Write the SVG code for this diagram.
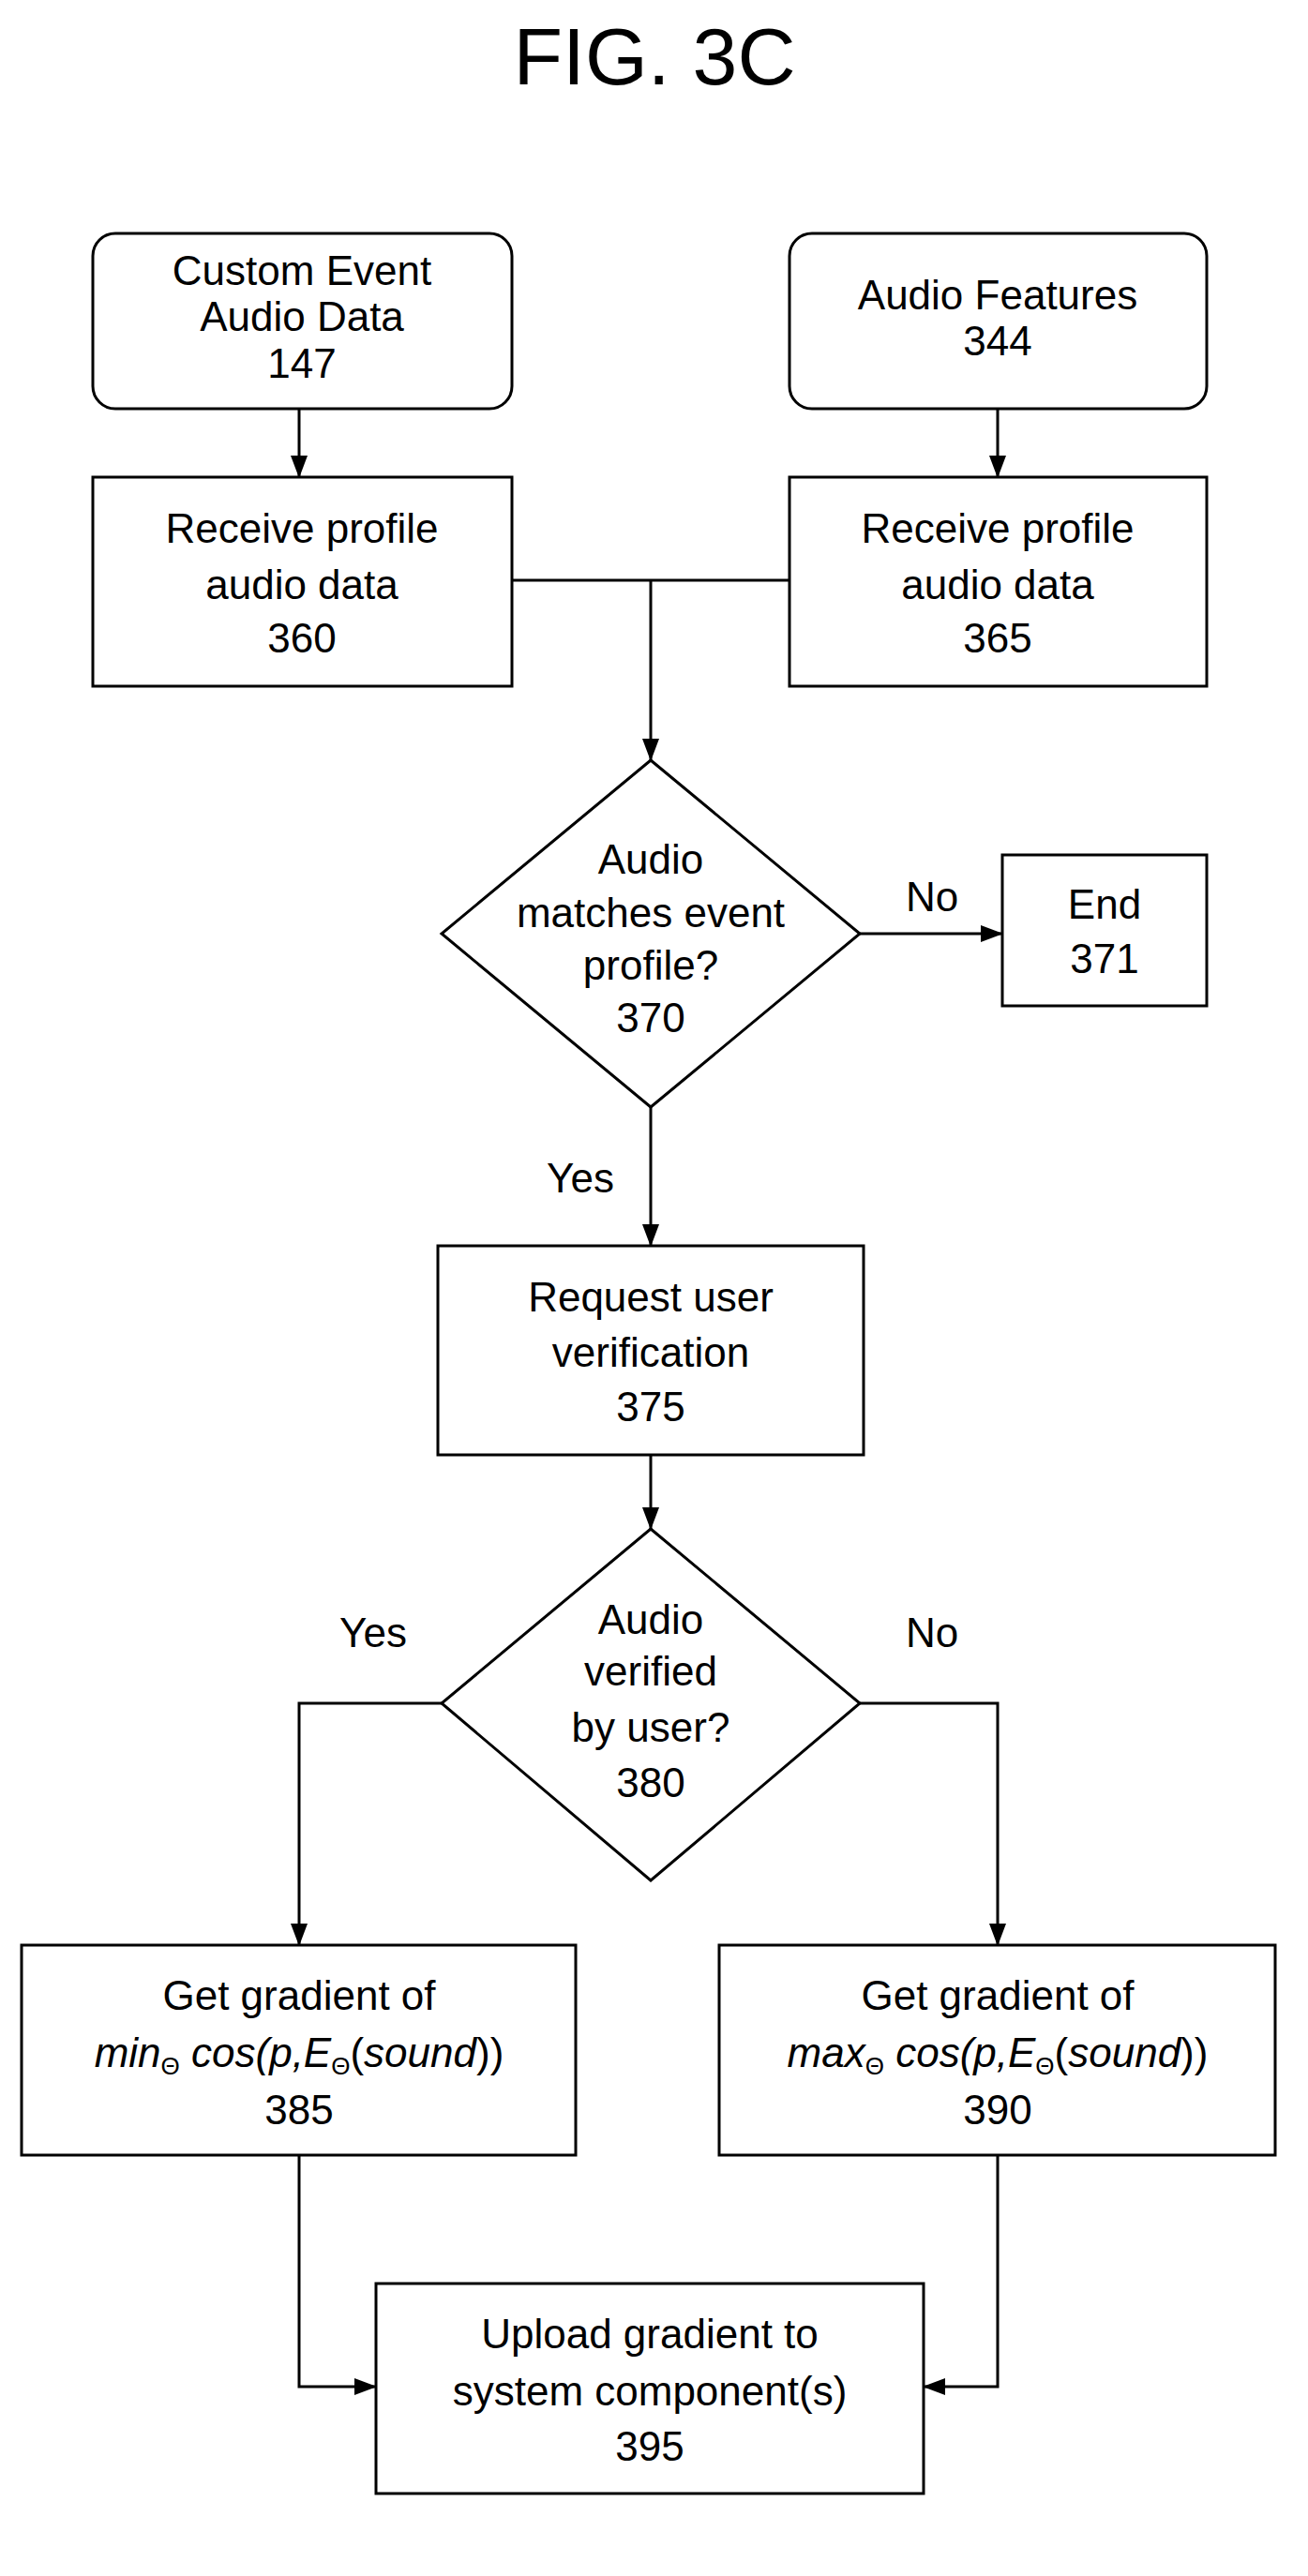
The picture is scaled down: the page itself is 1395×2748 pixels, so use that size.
<svg xmlns="http://www.w3.org/2000/svg" width="1395" height="2748" viewBox="0 0 1395 2748">
<style>
.b{fill:#fff;stroke:#000;stroke-width:3}
text{font-family:"Liberation Sans",Arial,sans-serif;font-size:44px;text-anchor:middle;fill:#000}
.c{fill:none;stroke:#000;stroke-width:3}
.s{font-size:26px}
</style>
<defs><marker id="a" markerWidth="24" markerHeight="18" refX="23" refY="9" orient="auto" markerUnits="userSpaceOnUse" viewBox="0 0 24 18"><path d="M0,0L24,9L0,18z" fill="#000"/></marker></defs>
<text x="698" y="90" style="font-size:86px">FIG. 3C</text>
<g id="n147"><rect class="b" x="99" y="249" width="447" height="187" rx="24"/><text x="322" y="304">Custom Event</text><text x="322" y="353">Audio Data</text><text x="322" y="403">147</text></g>
<g id="n344"><rect class="b" x="842" y="249" width="445" height="187" rx="24"/><text x="1064" y="330">Audio Features</text><text x="1064" y="379">344</text></g>
<g id="n360"><rect class="b" x="99" y="509" width="447" height="223"/><text x="322" y="579">Receive profile</text><text x="322" y="639">audio data</text><text x="322" y="696">360</text></g>
<g id="n365"><rect class="b" x="842" y="509" width="445" height="223"/><text x="1064" y="579">Receive profile</text><text x="1064" y="639">audio data</text><text x="1064" y="696">365</text></g>
<g id="n370"><polygon class="b" points="694,811 917,996 694,1181 471,996"/><text x="694" y="932">Audio</text><text x="694" y="989">matches event</text><text x="694" y="1045">profile?</text><text x="694" y="1101">370</text></g>
<g id="n371"><rect class="b" x="1069" y="912" width="218" height="161"/><text x="1178" y="980">End</text><text x="1178" y="1038">371</text></g>
<g id="n375"><rect class="b" x="467" y="1329" width="454" height="223"/><text x="694" y="1399">Request user</text><text x="694" y="1458">verification</text><text x="694" y="1516">375</text></g>
<g id="n380"><polygon class="b" points="694,1631 917,1817 694,2006 471,1817"/><text x="694" y="1743">Audio</text><text x="694" y="1798">verified</text><text x="694" y="1858">by user?</text><text x="694" y="1917">380</text></g>
<g id="n385"><rect class="b" x="23" y="2075" width="591" height="224"/><text x="319" y="2144">Get gradient of</text><text x="319" y="2205"><tspan font-style="italic">min</tspan><tspan class="s" dy="8">Θ</tspan><tspan font-style="italic" dy="-8"> cos(p,E</tspan><tspan class="s" dy="8">Θ</tspan><tspan dy="-8">(</tspan><tspan font-style="italic">sound</tspan><tspan>))</tspan></text><text x="319" y="2266">385</text></g>
<g id="n390"><rect class="b" x="767" y="2075" width="593" height="224"/><text x="1064" y="2144">Get gradient of</text><text x="1064" y="2205"><tspan font-style="italic">max</tspan><tspan class="s" dy="8">Θ</tspan><tspan font-style="italic" dy="-8"> cos(p,E</tspan><tspan class="s" dy="8">Θ</tspan><tspan dy="-8">(</tspan><tspan font-style="italic">sound</tspan><tspan>))</tspan></text><text x="1064" y="2266">390</text></g>
<g id="n395"><rect class="b" x="401" y="2436" width="584" height="224"/><text x="693" y="2505">Upload gradient to</text><text x="693" y="2566">system component(s)</text><text x="693" y="2625">395</text></g>
<g id="connectors">
<path class="c" marker-end="url(#a)" d="M319,436V509"/>
<path class="c" marker-end="url(#a)" d="M1064,436V509"/>
<path class="c" d="M546,619H842"/>
<path class="c" marker-end="url(#a)" d="M694,619V811"/>
<path class="c" marker-end="url(#a)" d="M917,996H1069"/>
<path class="c" marker-end="url(#a)" d="M694,1181V1329"/>
<path class="c" marker-end="url(#a)" d="M694,1552V1631"/>
<path class="c" marker-end="url(#a)" d="M471,1817H319V2075"/>
<path class="c" marker-end="url(#a)" d="M917,1817H1064V2075"/>
<path class="c" marker-end="url(#a)" d="M319,2299V2546H401"/>
<path class="c" marker-end="url(#a)" d="M1064,2299V2546H985"/>
<text x="994" y="972">No</text>
<text x="619" y="1272">Yes</text>
<text x="398" y="1757">Yes</text>
<text x="994" y="1757">No</text>
</g>
</svg>
